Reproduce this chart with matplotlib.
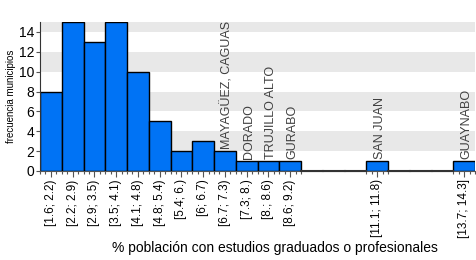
import numpy as np
import matplotlib
matplotlib.use("Agg")
from matplotlib import pyplot as plt

plt.rcParams['font.family'] = ['Liberation Sans', 'DejaVu Sans']

# bins of the histogram
bins = ["[1.6; 2.2)", "[2.2; 2.9)", "[2.9; 3.5)", "[3.5; 4.1)", "[4.1; 4.8)",
        "[4.8; 5.4)", "[5.4; 6.)", "[6; 6.7)", "[6.7; 7.3)", "[7.3; 8.)",
        "[8.; 8.6)", "[8.6; 9.2)", "[9.2; 9.9)", "[9.9; 10.5)", "[10.5; 11.1)",
        "[11.1; 11.8)", "[11.8; 12.4)", "[12.4; 13.)", "[13.; 13.7)", "[13.7; 14.3]"]
counts = [8, 15, 13, 15, 10, 5, 2, 3, 2, 1, 1, 1, 0, 0, 0, 1, 0, 0, 0, 1]
# municipality names shown above some bars
names = {8: "MAYAGÜEZ, CAGUAS", 9: "DORADO", 10: "TRUJILLO ALTO",
         11: "GURABO", 15: "SAN JUAN", 19: "GUAYNABO"}

fig = plt.figure(figsize=(4.76, 2.6), dpi=100)
ax = fig.add_axes([40/476, 1-171/260, 435/476, 149/260])

# alternating grey bands
for lo in range(2, 16, 4):
    ax.axhspan(lo, lo+2, color="#e8e8e8", lw=0, zorder=0)

x = np.arange(len(counts))
ax.bar(x, counts, width=1.0, color="#0073f5", edgecolor="black", linewidth=1, zorder=2)
# dark segments on the axis for the empty bins
for i, c in enumerate(counts):
    if c == 0:
        ax.plot([i - 0.5, i + 0.5], [0, 0], color="#333333", lw=1.5, zorder=3, clip_on=False)

for i, name in names.items():
    ax.text(i + 0.12, counts[i] + 0.25, name, rotation=90, ha="center", va="bottom",
            fontsize=9, color="#404040", zorder=3)

ax.set_xlim(-0.5, len(counts) - 0.5)
ax.set_ylim(0, 15)

nonzero = [i for i, c in enumerate(counts) if c > 0]
ax.set_xticks(nonzero)
ax.set_xticklabels([bins[i] for i in nonzero], rotation=90, fontsize=8.5)
minor = []
for i in nonzero:
    minor += [i - 0.5, i - 0.25, i + 0.25, i + 0.5]
ax.set_xticks(sorted(set(minor)), minor=True)
ax.tick_params(axis="x", which="major", length=4, width=0.8, color="#555555", pad=2)
ax.tick_params(axis="x", which="minor", length=2, width=0.8, color="#555555")

ax.set_yticks(range(0, 15, 2))
ax.tick_params(axis="y", length=3, width=0.8, labelsize=10, pad=1, color="#555555")

for s in ["top", "right"]:
    ax.spines[s].set_visible(False)
ax.spines["left"].set_color("#333333")
ax.spines["bottom"].set_color("#555555")

ax.set_ylabel("frecuencia municipios", fontsize=7, labelpad=2)
ax.set_xlabel("% población con estudios graduados o profesionales", fontsize=10)
ax.xaxis.set_label_coords(0.54, -0.47)

fig.savefig("out.png", dpi=100)
